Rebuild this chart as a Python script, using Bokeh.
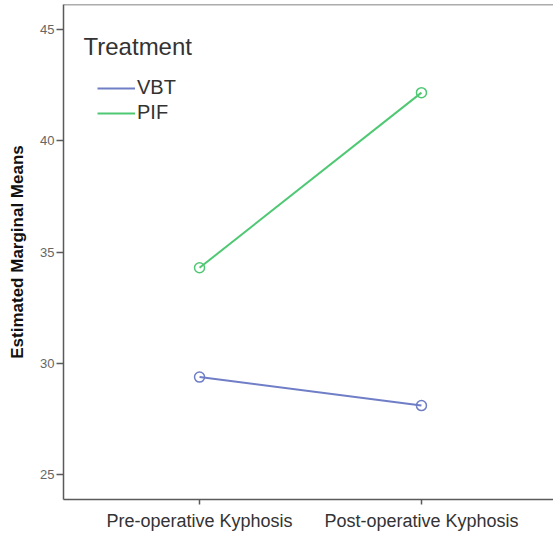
from bokeh.plotting import figure
from bokeh.models import FixedTicker, Legend, LegendItem, Range1d, Span, Label
from bokeh.embed import file_html
from bokeh.resources import INLINE

# Estimated marginal means of kyphosis by treatment group
time_points = ["Pre-operative Kyphosis", "Post-operative Kyphosis"]
time_pos = [1, 2]
vbt_means = [29.38, 28.10]
pif_means = [34.29, 42.16]
y_ticks = [25, 30, 35, 40, 45]

VBT_COLOR = "#6f7ec6"
PIF_COLOR = "#4fc874"
AXIS_COLOR = "#5a5a5a"
Y_TOP = 46.12

p = figure(
    width=553, height=544,
    output_backend="svg", toolbar_location=None,
    x_range=Range1d(0.387, 2.595), y_range=Range1d(23.88, Y_TOP),
    min_border_left=63, min_border_right=0, min_border_top=4, min_border_bottom=45,
)
p.outline_line_color = None
p.background_fill_color = "white"
p.border_fill_color = "white"
p.grid.visible = False

# y axis
ya = p.yaxis[0]
ya.ticker = FixedTicker(ticks=y_ticks)
ya.axis_label = "Estimated Marginal Means"
ya.axis_label_text_font = "Liberation Sans"
ya.axis_label_text_font_style = "bold"
ya.axis_label_text_font_size = "17px"
ya.axis_label_text_color = "#111111"
ya.axis_label_standoff = 10
ya.major_label_text_font = "Liberation Sans"
ya.major_label_text_font_size = "13px"
ya.major_label_text_color = "#666666"
ya.major_label_standoff = 2
ya.major_tick_out = 7
ya.major_tick_in = 0
ya.minor_tick_out = 0
ya.minor_tick_in = 0
ya.axis_line_color = AXIS_COLOR
ya.axis_line_width = 1.5
ya.major_tick_line_color = AXIS_COLOR
ya.major_tick_line_width = 1.5

# x axis
xa = p.xaxis[0]
xa.ticker = FixedTicker(ticks=time_pos)
xa.major_label_overrides = {pos: name for pos, name in zip(time_pos, time_points)}
xa.major_label_text_font = "Liberation Sans"
xa.major_label_text_font_size = "18px"
xa.major_label_text_color = "#333333"
xa.major_label_standoff = 6
xa.major_tick_out = 5
xa.major_tick_in = 0
xa.minor_tick_out = 0
xa.minor_tick_in = 0
xa.axis_line_color = AXIS_COLOR
xa.axis_line_width = 1.5
xa.major_tick_line_color = AXIS_COLOR
xa.major_tick_line_width = 1.5

# top frame line (no right edge)
p.add_layout(Span(location=Y_TOP, dimension="width",
                  line_color=AXIS_COLOR, line_width=1.5))

# series
vbt_line = p.line(time_pos, vbt_means, line_color=VBT_COLOR, line_width=2)
p.scatter(time_pos, vbt_means, marker="circle", size=10, fill_color=None,
          line_color=VBT_COLOR, line_width=1.5)
pif_line = p.line(time_pos, pif_means, line_color=PIF_COLOR, line_width=2)
p.scatter(time_pos, pif_means, marker="circle", size=10, fill_color=None,
          line_color=PIF_COLOR, line_width=1.5)

# legend title, set a little left of the entries
p.add_layout(Label(
    x=20, y=495 - 43 + 1, x_units="screen", y_units="screen",
    text="Treatment", text_font="Liberation Sans", text_font_size="24px",
    text_color="#333333", text_baseline="middle", text_align="left",
))

legend = Legend(
    items=[LegendItem(label="VBT", renderers=[vbt_line]),
           LegendItem(label="PIF", renderers=[pif_line])],
    location=(34, 495 - 74 - 46),
    label_text_font="Liberation Sans",
    label_text_font_size="20px",
    label_text_color="#333333",
    label_standoff=2,
    label_height=22,
    glyph_width=38,
    glyph_height=22,
    spacing=2,
    padding=0,
    margin=0,
    border_line_color=None,
    background_fill_alpha=0,
)
p.add_layout(legend, "center")

with open("out.html", "w") as f:
    f.write(file_html(p, INLINE))
